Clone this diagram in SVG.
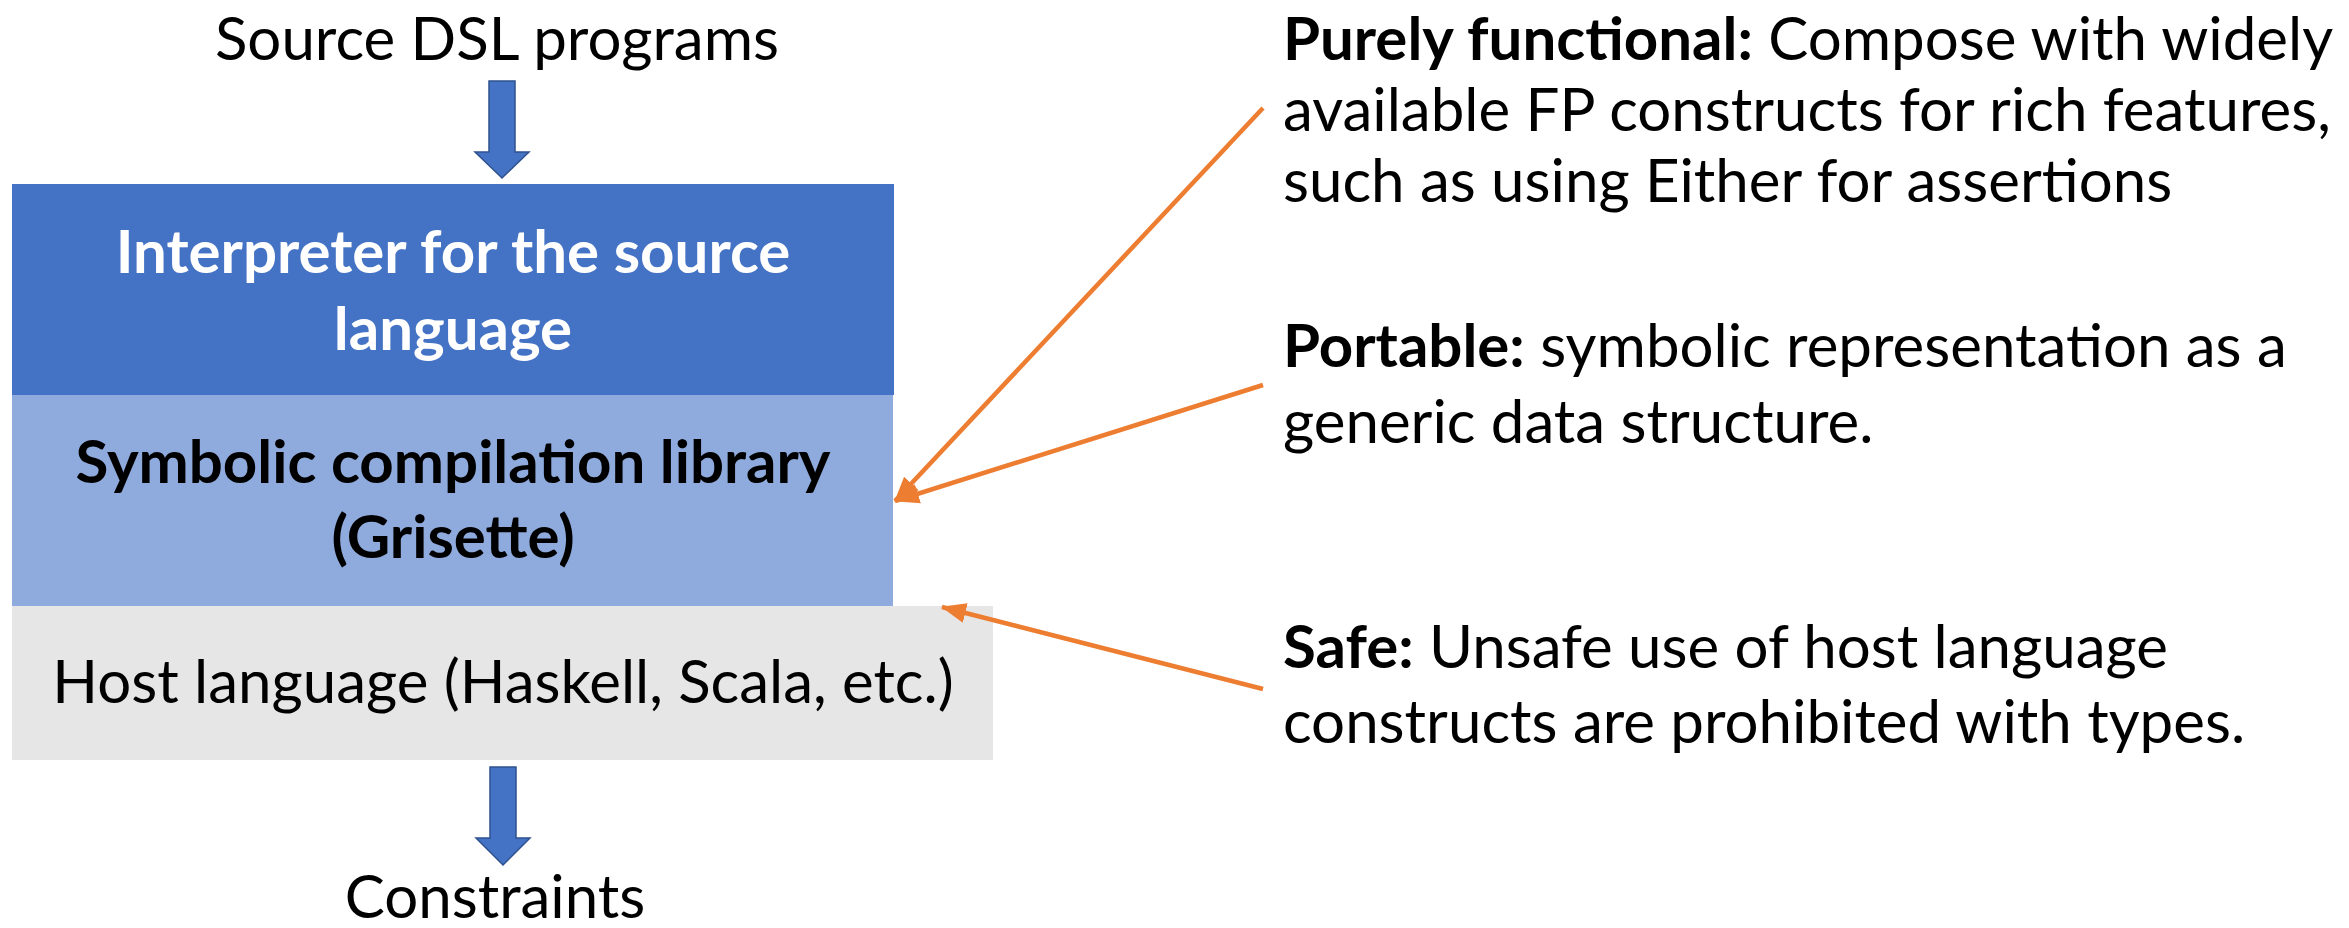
<svg xmlns="http://www.w3.org/2000/svg" width="2349" height="928" viewBox="0 0 2349 928">
<style>
text{font-family:Lato,"Liberation Sans",sans-serif;font-size:60px;fill:#000}
.b{font-weight:bold}
.w{fill:#fff}
.c{text-anchor:middle}
.blk{fill:#4472C4;stroke:#2F528F;stroke-width:1.5}
.or{stroke:#ED7D31;stroke-width:4.5;fill:none}
</style>
<defs>
<marker id="ah" markerUnits="userSpaceOnUse" markerWidth="26" markerHeight="26" viewBox="0 0 26 26" refX="24" refY="13" orient="auto">
<path d="M0,3 L25,13 L0,23 Z" fill="#ED7D31"/>
</marker>
</defs>
<g id="source"><text class="c" x="497" y="60">Source DSL programs</text></g>
<g id="interp"><rect x="12" y="184" width="882" height="211" fill="#4472C4"/>
<text class="c b w" x="453" y="273">Interpreter for the source</text>
<text class="c b w" x="453" y="350">language</text></g>
<g id="symb"><rect x="12" y="395" width="881" height="211" fill="#8FAADC"/>
<text class="c b" x="453" y="483">Symbolic compilation library</text>
<text class="c b" x="453" y="558">(Grisette)</text></g>
<g id="host"><rect x="12" y="606" width="981" height="154" fill="#E7E6E6"/>
<text class="c" x="503" y="703">Host language (Haskell, Scala, etc.)</text></g>
<g id="constraints"><text class="c" x="495" y="918">Constraints</text></g>
<g id="pure"><text x="1283" y="60"><tspan class="b">Purely functional:</tspan> Compose with widely</text>
<text x="1283" y="131">available FP constructs for rich features,</text>
<text x="1283" y="202">such as using Either for assertions</text></g>
<g id="portable"><text x="1283" y="367"><tspan class="b">Portable:</tspan> symbolic representation as a</text>
<text x="1283" y="443">generic data structure.</text></g>
<g id="safe"><text x="1283" y="668"><tspan class="b">Safe:</tspan> Unsafe use of host language</text>
<text x="1283" y="743">constructs are prohibited with types.</text></g>
<g id="connectors">
<path class="blk" d="M489,81 H515 V152 H529 L502,178 L475,152 H489 Z"/>
<path class="blk" d="M490,767 H516 V838 H530 L503,865 L476,838 H490 Z"/>
<line class="or" x1="1263" y1="108" x2="895" y2="501" marker-end="url(#ah)"/>
<line class="or" x1="1263" y1="385" x2="895" y2="501" marker-end="url(#ah)"/>
<line class="or" x1="1263" y1="689" x2="942" y2="607" marker-end="url(#ah)"/>
</g>
</svg>
